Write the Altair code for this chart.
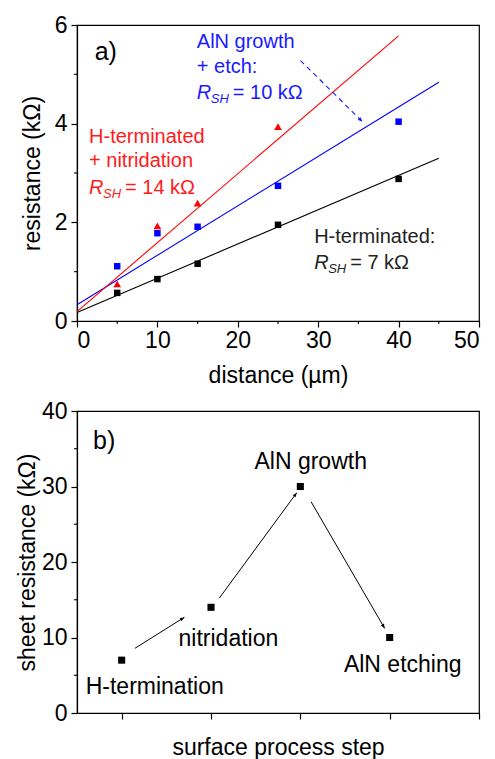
import math
import altair as alt
import pandas as pd

FONT = "Liberation Sans"
NB = "\u00a0"

# ---------------- panel a) data ----------------
dist = [5, 10, 15, 25, 40]
res_hterm = [0.57, 0.85, 1.16, 1.95, 2.88]
res_etch = [1.11, 1.78, 1.91, 2.74, 4.04]
dist_nitr = [5, 10, 15, 25]
res_nitr = [0.75, 1.93, 2.39, 3.94]

fit_x0 = [0, 0, 0]
fit_x1 = [45, 45, 40]
fit_y0 = [0.17, 0.33, 0.19]
fit_y1 = [3.30, 4.84, 5.78]
fit_col = ["black", "#0000ff", "#ff0000"]

arrow_a = {"x": [27.8], "y": [5.28], "x2": [35.5], "y2": [4.04]}

xminor_a = [5, 15, 25, 35, 45]
yminor_a = [1, 3, 5]

# text labels (panel a)
lab_a_txt = ["AlN growth", "+ etch:", "H-terminated", "+ nitridation", "H-terminated:"]
lab_a_x = [14.9, 14.9, 1.5, 1.5, 29.5]
lab_a_y = [5.66, 5.15, 3.73, 3.25, 1.71]
lab_a_col = ["#1a1aff", "#1a1aff", "#ff1a1a", "#ff1a1a", "#222222"]

rsh_x = [14.9, 1.5, 29.5]
rsh_y = [4.62, 2.70, 1.17]
rsh_val = ["= 10 kΩ", "= 14 kΩ", "= 7 kΩ"]
rsh_col = ["#1a1aff", "#ff1a1a", "#222222"]

# ---------------- panel b) data ----------------
steps = [1, 2, 3, 4]
sheet_res = [7, 14, 30, 10]
step_lab = ["H-termination", "nitridation", "AlN growth", "AlN etching"]
step_lab_x = [1.37, 2.195, 3.116, 4.146]
step_lab_y = [3.48, 9.8, 33.3, 6.36]

arr_b_x0 = [1.149, 2.094, 3.120]
arr_b_y0 = [8.57, 15.23, 27.99]
arr_b_x1 = [1.702, 2.960, 3.944]
arr_b_y1 = [12.68, 29.18, 11.21]

yminor_b = [5, 15, 25, 35]

W = 402
HA = 296
HB = 302

AX_DOM_A = [0, 50]
AY_DOM_A = [0, 6]
AX_DOM_B = [0.5, 5]
AY_DOM_B = [0, 40]

ARROW_SHAPE = "M0,0 L-0.4,1 L0.4,1 Z"


def angle(x0, y0, x1, y1, xd, yd, w, h):
    dx = (x1 - x0) * w / (xd[1] - xd[0])
    dy = -(y1 - y0) * h / (yd[1] - yd[0])
    return math.degrees(math.atan2(dx, -dy)) % 360


# ---------------- panel a ----------------
XA = alt.X("x:Q", scale=alt.Scale(domain=AX_DOM_A, nice=False),
           axis=alt.Axis(values=[0, 10, 20, 30, 40, 50], title="distance (µm)", grid=False,
                         tickSize=6, labelPadding=2, titlePadding=12))
YA = alt.Y("y:Q", scale=alt.Scale(domain=AY_DOM_A, nice=False),
           axis=alt.Axis(values=[0, 2, 4, 6], title="resistance (kΩ)" + NB * 5, grid=False,
                         tickSize=6, labelPadding=4, titlePadding=10))

pts = pd.DataFrame({
    "x": dist + dist,
    "y": res_hterm + res_etch,
    "c": ["black"] * len(dist) + ["#0000ff"] * len(dist),
})
sq_a = alt.Chart(pts).mark_point(shape="square", filled=True, opacity=1, size=42).encode(
    x=XA, y=YA, color=alt.Color("c:N", scale=None))
tri_a = alt.Chart(pd.DataFrame({"x": dist_nitr, "y": res_nitr})).mark_point(
    shape="triangle-up", filled=True, opacity=1, size=60, color="#ff0000").encode(x=XA, y=YA)

fits = pd.DataFrame({"x": fit_x0, "y": fit_y0, "x2": fit_x1, "y2": fit_y1, "c": fit_col})
fit_a = alt.Chart(fits).mark_rule(strokeWidth=1.1).encode(
    x=XA, y=YA, x2="x2:Q", y2="y2:Q", color=alt.Color("c:N", scale=None))

arr_df = pd.DataFrame(arrow_a)
arr_df["ang"] = [angle(arrow_a["x"][0], arrow_a["y"][0], arrow_a["x2"][0], arrow_a["y2"][0],
                       AX_DOM_A, AY_DOM_A, W, HA)]
arr_line = alt.Chart(arr_df).mark_rule(strokeWidth=1.1, strokeDash=[5, 4], color="#1a1aff").encode(
    x=XA, y=YA, x2="x2:Q", y2="y2:Q")
arr_head_df = pd.DataFrame({"x": arr_df["x2"], "y": arr_df["y2"], "ang": arr_df["ang"]})
arr_head = alt.Chart(arr_head_df).mark_point(shape=ARROW_SHAPE, filled=True, opacity=1, size=90,
                                             color="#1a1aff").encode(
    x=XA, y=YA, angle=alt.Angle("ang:Q", scale=None))

xmin_a = alt.Chart(pd.DataFrame({"x": xminor_a})).mark_rule(color="black", strokeWidth=1.1).encode(
    x=XA, y=alt.value(HA), y2=alt.value(HA + 3))
ymin_a = alt.Chart(pd.DataFrame({"y": yminor_a})).mark_rule(color="black", strokeWidth=1.1).encode(
    y=YA, x=alt.value(0), x2=alt.value(-3))

lab_a = alt.Chart(pd.DataFrame({"x": lab_a_x, "y": lab_a_y, "t": lab_a_txt, "c": lab_a_col})).mark_text(
    align="left", baseline="middle", fontSize=20, font=FONT).encode(
    x=XA, y=YA, text="t:N", color=alt.Color("c:N", scale=None))

rsh_df = pd.DataFrame({"x": rsh_x, "y": rsh_y, "v": rsh_val, "c": rsh_col,
                       "r": ["R"] * 3, "s": ["SH"] * 3})
rsh_r = alt.Chart(rsh_df).mark_text(align="left", baseline="middle", fontSize=20, font=FONT,
                                    fontStyle="italic").encode(
    x=XA, y=YA, text="r:N", color=alt.Color("c:N", scale=None))
rsh_s = alt.Chart(rsh_df).mark_text(align="left", baseline="middle", fontSize=13, font=FONT,
                                    fontStyle="italic", dx=14, dy=6).encode(
    x=XA, y=YA, text="s:N", color=alt.Color("c:N", scale=None))
rsh_v = alt.Chart(rsh_df).mark_text(align="left", baseline="middle", fontSize=20, font=FONT,
                                    dx=36).encode(
    x=XA, y=YA, text="v:N", color=alt.Color("c:N", scale=None))

tag_a = alt.Chart(pd.DataFrame({"x": [2.2], "y": [5.45], "t": ["a)"]})).mark_text(
    align="left", baseline="middle", fontSize=25, font=FONT, color="black").encode(
    x=XA, y=YA, text="t:N")

panel_a = alt.layer(fit_a, arr_line, arr_head, sq_a, tri_a, xmin_a, ymin_a,
                    lab_a, rsh_r, rsh_s, rsh_v, tag_a).properties(width=W, height=HA)

# ---------------- panel b ----------------
XB = alt.X("x:Q", scale=alt.Scale(domain=AX_DOM_B, nice=False, zero=False),
           axis=alt.Axis(values=[1, 2, 3, 4, 5], labels=False, title="surface process step",
                         grid=False, tickSize=6, titlePadding=17))
YB = alt.Y("y:Q", scale=alt.Scale(domain=AY_DOM_B, nice=False),
           axis=alt.Axis(values=[0, 10, 20, 30, 40], title="sheet resistance (kΩ)" + NB * 5,
                         grid=False, tickSize=6, labelPadding=4, titlePadding=2))

sq_b = alt.Chart(pd.DataFrame({"x": steps, "y": sheet_res})).mark_point(
    shape="square", filled=True, opacity=1, size=50, color="black").encode(x=XB, y=YB)

arrb = pd.DataFrame({"x": arr_b_x0, "y": arr_b_y0, "x2": arr_b_x1, "y2": arr_b_y1})
arrb["ang"] = [angle(a, b, c, d, AX_DOM_B, AY_DOM_B, W, HB)
               for a, b, c, d in zip(arr_b_x0, arr_b_y0, arr_b_x1, arr_b_y1)]
arrb_line = alt.Chart(arrb).mark_rule(strokeWidth=1, color="black").encode(
    x=XB, y=YB, x2="x2:Q", y2="y2:Q")
arrb_head_df = pd.DataFrame({"x": arr_b_x1, "y": arr_b_y1, "ang": arrb["ang"]})
arrb_head = alt.Chart(arrb_head_df).mark_point(shape=ARROW_SHAPE, filled=True, opacity=1, size=80,
                                               color="black").encode(
    x=XB, y=YB, angle=alt.Angle("ang:Q", scale=None))

ymin_b = alt.Chart(pd.DataFrame({"y": yminor_b})).mark_rule(color="black", strokeWidth=1.1).encode(
    y=YB, x=alt.value(0), x2=alt.value(-3))

lab_b = alt.Chart(pd.DataFrame({"x": step_lab_x, "y": step_lab_y, "t": step_lab})).mark_text(
    align="center", baseline="middle", fontSize=23, font=FONT, color="black").encode(
    x=XB, y=YB, text="t:N")

tag_b = alt.Chart(pd.DataFrame({"x": [0.68], "y": [36.0], "t": ["b)"]})).mark_text(
    align="left", baseline="middle", fontSize=25, font=FONT, color="black").encode(
    x=XB, y=YB, text="t:N")

panel_b = alt.layer(arrb_line, arrb_head, sq_b, ymin_b, lab_b, tag_b).properties(width=W, height=HB)

chart = alt.vconcat(panel_a, panel_b, spacing=11).properties(
    padding={"left": 7, "top": 5, "right": 0, "bottom": 0},
    background="white",
).configure_view(stroke="black", strokeWidth=1.2).configure_axis(
    domainColor="black", domainWidth=1.2, tickColor="black", tickWidth=1.2,
    labelColor="black", titleColor="black", labelFont=FONT, titleFont=FONT,
    labelFontSize=23, titleFontSize=23, titleFontWeight="normal",
)

chart.save("out.html", embed_options={"renderer": "svg", "actions": False})
